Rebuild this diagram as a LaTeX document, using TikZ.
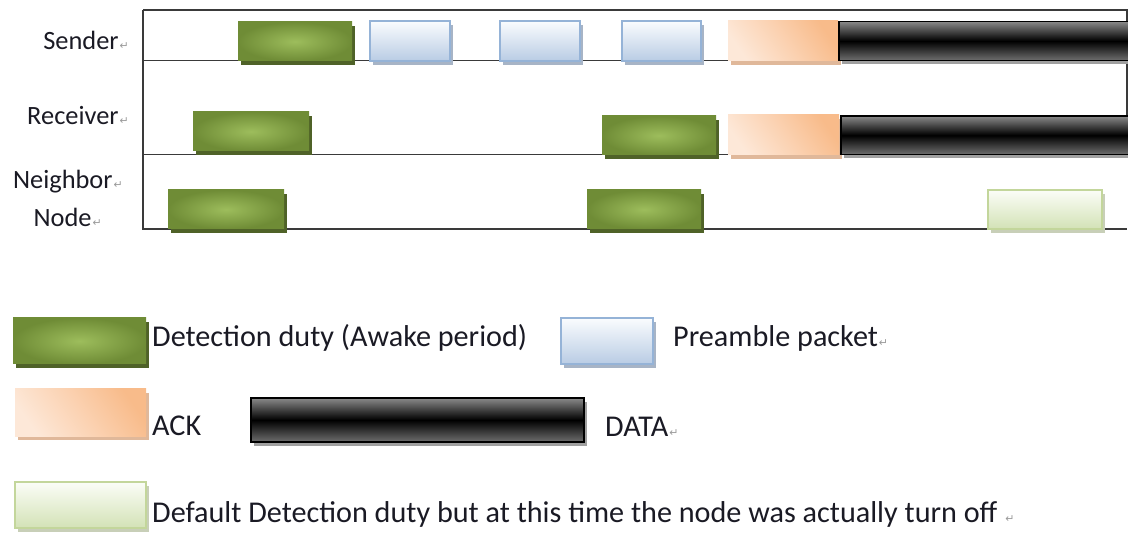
\documentclass[tikz,border=0pt]{standalone}
\usepackage{fontspec}
\setmainfont{Carlito}
\newfontfamily\symfont{DejaVu Sans}
\definecolor{txt}{HTML}{1A1A24}
\definecolor{retgray}{HTML}{9A9A9A}
\definecolor{frame}{HTML}{3A3A3A}
\definecolor{awakeHi}{HTML}{9DBD5C}
\definecolor{awakeLo}{HTML}{6F8C36}
\definecolor{awakeSh}{HTML}{4F6228}
\definecolor{preHi}{HTML}{FAFCFE}
\definecolor{preLo}{HTML}{B9CCE4}
\definecolor{preEdge}{HTML}{95B3D7}
\definecolor{preSh}{HTML}{A7B4C6}
\definecolor{ackHi}{HTML}{FDE8D8}
\definecolor{ackMid}{HTML}{FBD2B2}
\definecolor{ackLo}{HTML}{F8BB8A}
\definecolor{ackSh}{HTML}{E0B89A}
\definecolor{dataGray}{HTML}{8A8A8A}
\definecolor{dataSh}{HTML}{A0A0A0}
\definecolor{offHi}{HTML}{FBFDF7}
\definecolor{offLo}{HTML}{D3E2B6}
\definecolor{offEdge}{HTML}{C3D69B}
\definecolor{offSh}{HTML}{C8CFB8}
% Word paragraph mark that follows some of the labels
\newcommand\retmark{{\symfont\fontsize{11}{11}\selectfont\color{retgray}\kern1bp↵}}
\begin{document}
\begin{tikzpicture}[x=1bp,y=-1bp,
  axisline/.style={draw=frame, line width=1.3bp},
  shadowed/.style={preaction={fill=#1, transform canvas={shift={(3bp,-4bp)}}}},
  awake/.style={shadowed=awakeSh, shade, shading=radial, inner color=awakeHi, outer color=awakeLo},
  preamble/.style={shadowed=preSh, shade, top color=preHi, bottom color=preLo, draw=preEdge, line width=1.2bp},
  ack/.style={shadowed=ackSh, shade, left color=ackHi, right color=ackLo, middle color=ackMid, shading angle=125},
  data/.style={shadowed=dataSh, shade, top color=dataGray, bottom color=dataGray!80!black, middle color=black, draw=black, line width=1.5bp},
  off/.style={shadowed=offSh, shade, top color=offHi, bottom color=offLo, draw=offEdge, line width=1.2bp},
  rowlabel/.style={font=\fontsize{26.5}{30}\selectfont, text=txt, inner sep=0pt},
  legtext/.style={font=\fontsize{30.3}{33}\selectfont, text=txt, inner sep=0pt, anchor=base west}]
\useasboundingbox (0,0) rectangle (1128,533);
\clip (0,0) rectangle (1128,533);

% timeline frame and row separators
\draw[axisline] (143,10) -- (1127,10) -- (1127,155);
\draw[axisline] (143,10) -- (143,229) -- (1127,229);
\draw[axisline] (143,60.5) -- (1127,60.5);
\draw[axisline] (143,154.5) -- (1127,154.5);

% row labels
\node[rowlabel, anchor=base east] (lsender) at (129,50) {Sender\retmark};
\node[rowlabel, anchor=base east] (lreceiver) at (129,125) {Receiver\retmark};
\node[rowlabel, anchor=base east] (lneighbor) at (123,189) {Neighbor\retmark};
\node[rowlabel, anchor=base east] (lnode) at (102,227) {Node\retmark};

% sender row
\path[awake] (238,22) rectangle (352,61);
\path[preamble] (370,21) rectangle (450,61);
\path[preamble] (500,21) rectangle (580,61);
\path[preamble] (622,21) rectangle (701,61);
\path[ack] (728,21) rectangle (838,61);
\path[data] (839,21.5) rectangle (1140,60.5);

% receiver row
\path[awake] (193,112) rectangle (309,151);
\path[awake] (602,116) rectangle (716,155);
\path[ack] (728,115) rectangle (839,155);
\path[data] (841,116) rectangle (1140,154.5);

% neighbor row
\path[awake] (168,190) rectangle (284,229);
\path[awake] (587,190) rectangle (701,229);
\path[off] (988,190) rectangle (1102,229);

% legend
\path[awake] (13,318) rectangle (146,364);
\node[legtext] (tawake) at (152,347) {Detection duty (Awake period)};
\path[preamble] (561,318) rectangle (653,364);
\node[legtext] (tpre) at (673,347) {Preamble packet\retmark};
\path[ack] (15,389) rectangle (146,436);
\node[legtext] (tack) at (152,435) {ACK};
\path[data] (251,398) rectangle (584,442);
\node[legtext] (tdata) at (605,436) {DATA\retmark};
\path[off] (15,482) rectangle (146,528);
\node[legtext] (toff) at (152,522) {Default Detection duty but at this time the node was actually turn off \retmark};
\end{tikzpicture}
\end{document}
